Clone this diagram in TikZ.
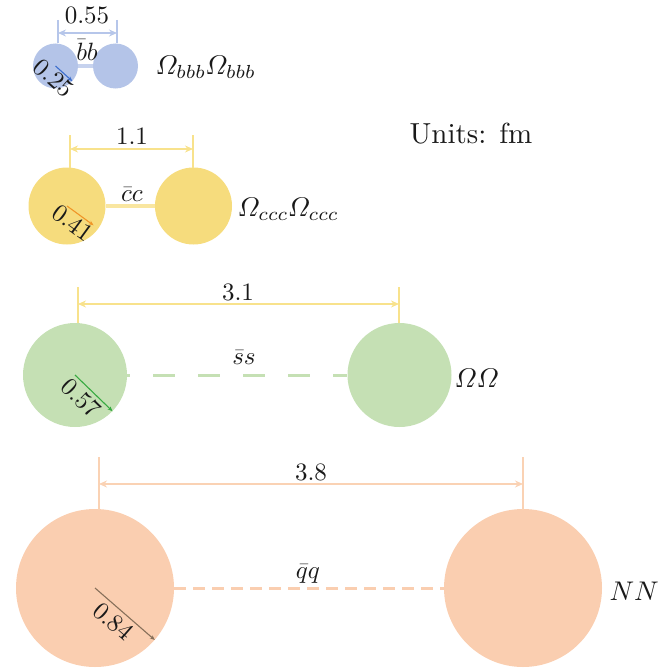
\RequirePackage{fix-cm}
\documentclass[tikz,border=0pt]{standalone}
\usepackage{amsmath}
\usepackage{fontspec}
\setmainfont{lmroman10-regular}[Extension=.otf]
\DeclareFontShape{OML}{cmm}{m}{it}{<-20>cmmi7 <20->cmmi10}{\skewchar\font'177}
\usetikzlibrary{arrows.meta,calc}
\definecolor{bluefill}{RGB}{180,196,232}
\definecolor{bluelink}{RGB}{198,210,238}
\definecolor{bluedim}{RGB}{182,198,234}
\definecolor{bluerad}{RGB}{60,110,205}
\definecolor{yelfill}{RGB}{246,220,125}
\definecolor{yellink}{RGB}{249,230,160}
\definecolor{yeldim}{RGB}{248,226,140}
\definecolor{yelrad}{RGB}{240,150,40}
\definecolor{grnfill}{RGB}{197,224,180}
\definecolor{grnrad}{RGB}{55,170,65}
\definecolor{orgfill}{RGB}{250,206,176}
\definecolor{orgdim}{RGB}{250,210,180}
\definecolor{orgrad}{RGB}{135,112,90}
\definecolor{txt}{RGB}{25,25,25}
\begin{document}
\begin{tikzpicture}[x=1pt,y=-1pt,
  every node/.style={font=\fontsize{25}{30}\selectfont, text=txt},
  ball/.style={circle, inner sep=0pt, minimum size=#1},
  dimline/.style={line width=1.5pt},
  dimarrow/.style={line width=1.5pt, {Stealth[length=8pt,width=7pt]}-{Stealth[length=8pt,width=7pt]}},
  radarrow/.style={line width=1.1pt, -{Stealth[length=5pt,width=4pt]}},
  radlabel/.style={sloped, below, inner sep=1pt},
  solidlink/.style={line width=4pt},
  biglabel/.style={font=\fontsize{27}{32}\selectfont}]
\useasboundingbox (0,0) rectangle (659,669);

% ---------- row 1 : bb ----------
\node[ball=45pt, fill=bluefill] (b1) at (55.5,66) {};
\node[ball=45pt, fill=bluefill] (b2) at (115.5,66) {};
\draw[solidlink, bluelink] (b1.east) -- (b2.west);
\coordinate (d1lt) at (58,20); \coordinate (d1lb) at (58,43);
\coordinate (d1rt) at (117,20); \coordinate (d1rb) at (117,43);
\coordinate (d1la) at (58,33); \coordinate (d1ra) at (117,33);
\draw[dimline, bluedim] (d1lt) -- (d1lb);
\draw[dimline, bluedim] (d1rt) -- (d1rb);
\draw[dimarrow, bluedim] (d1la) -- (d1ra);
\node (t055) at (87,15) {0.55};
\node (tbb) at (87,50) {$\bar b b$};
\draw[radarrow, bluerad] (b1.center) -- (b1.-42)
  node[radlabel, pos=0.3] {0.25};
\node[biglabel, anchor=west] (lbb) at (152,67) {$\varOmega_{bbb}\varOmega_{bbb}$};

% ---------- row 2 : cc ----------
\node[ball=77pt, fill=yelfill] (c1) at (67,206) {};
\node[ball=77pt, fill=yelfill] (c2) at (193.5,206) {};
\draw[solidlink, yellink] (c1.east) -- (c2.west);
\coordinate (d2lt) at (70,135); \coordinate (d2lb) at (70,168);
\coordinate (d2rt) at (193,135); \coordinate (d2rb) at (193,168);
\coordinate (d2la) at (70,149); \coordinate (d2ra) at (193,149);
\draw[dimline, yeldim] (d2lt) -- (d2lb);
\draw[dimline, yeldim] (d2rt) -- (d2rb);
\draw[dimarrow, yeldim] (d2la) -- (d2ra);
\node (t11) at (132,136) {1.1};
\node (tcc) at (132,195) {$\bar c c$};
\coordinate (c1r) at ($(c1.center)!0.85!(c1.-36)$);
\draw[radarrow, yelrad] (c1.center) -- (c1r)
  node[radlabel, pos=0.45] {0.41};
\node[biglabel, anchor=west] (lcc) at (234,209) {$\varOmega_{ccc}\varOmega_{ccc}$};

% ---------- row 3 : ss ----------
\node[ball=104pt, fill=grnfill] (s1) at (75,375) {};
\node[ball=104pt, fill=grnfill] (s2) at (399.5,375) {};
\draw[line width=3pt, grnfill, dash pattern=on 22pt off 23pt, dash phase=19pt] (s1.east) -- (s2.west);
\coordinate (d3lt) at (78,287); \coordinate (d3lb) at (78,323);
\coordinate (d3rt) at (399,287); \coordinate (d3rb) at (399,323);
\coordinate (d3la) at (78,304); \coordinate (d3ra) at (399,304);
\draw[dimline, yeldim] (d3lt) -- (d3lb);
\draw[dimline, yeldim] (d3rt) -- (d3rb);
\draw[dimarrow, yeldim] (d3la) -- (d3ra);
\node (t31) at (238,292) {3.1};
\node (tss) at (244,358) {$\bar s s$};
\draw[radarrow, grnrad] (s1.center) -- (s1.-44)
  node[radlabel, pos=0.4, inner sep=3pt] {0.57};
\node[biglabel, anchor=west] (lss) at (451,378) {$\varOmega\varOmega$};

% ---------- row 4 : qq ----------
\node[ball=158pt, fill=orgfill] (q1) at (95,588) {};
\node[ball=158pt, fill=orgfill] (q2) at (523,588) {};
\draw[line width=3pt, orgfill, dash pattern=on 12pt off 7pt] (q1.east) -- (q2.west);
\coordinate (d4lt) at (99,457); \coordinate (d4lb) at (99,510);
\coordinate (d4rt) at (523,457); \coordinate (d4rb) at (523,510);
\coordinate (d4la) at (99,484); \coordinate (d4ra) at (523,484);
\draw[dimline, orgdim] (d4lt) -- (d4lb);
\draw[dimline, orgdim] (d4rt) -- (d4rb);
\draw[dimarrow, orgdim] (d4la) -- (d4ra);
\node (t38) at (311,472) {3.8};
\node (tqq) at (308,574) {$\bar q q$};
\draw[radarrow, orgrad] (q1.center) -- (q1.-41)
  node[radlabel, pos=0.45, inner sep=4pt] {0.84};
\node[biglabel, anchor=west] (lqq) at (606,591) {$NN$};

% ---------- units ----------
\node[font=\fontsize{29}{34}\selectfont] (units) at (471,134) {Units: fm};
\end{tikzpicture}
\end{document}
